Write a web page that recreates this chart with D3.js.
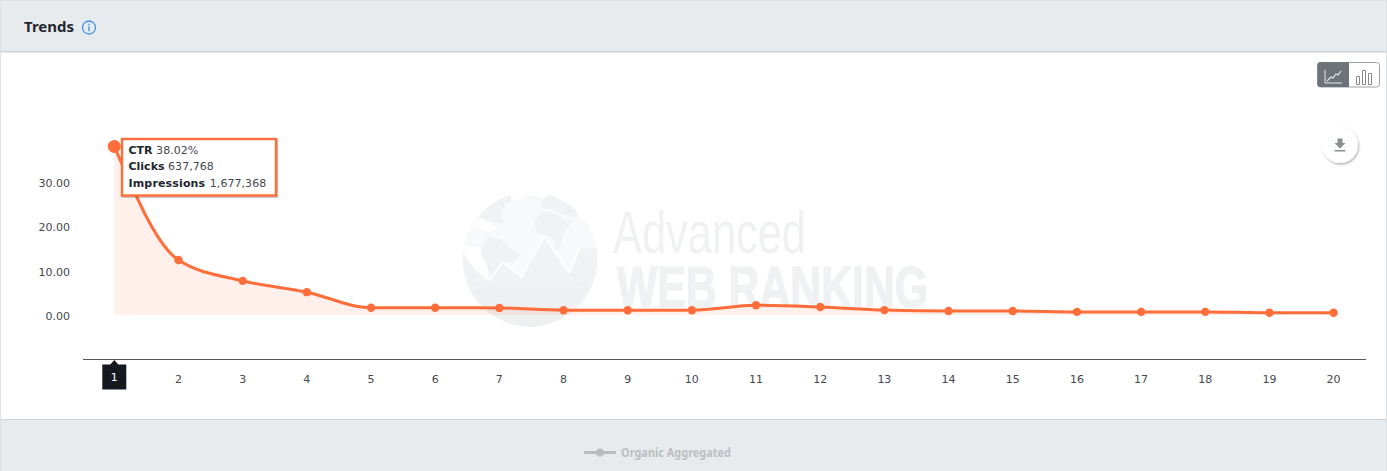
<!DOCTYPE html>
<html><head><meta charset="utf-8">
<script src="https://cdn.jsdelivr.net/npm/d3@7"></script>
<style>html,body{margin:0;padding:0;background:#fff;overflow:hidden}svg{display:block}</style>
</head><body><svg id="c" width="1387" height="471"></svg>
<script>
const categories = [1,2,3,4,5,6,7,8,9,10,11,12,13,14,15,16,17,18,19,20];
const ctrValues = [38.02,12.4,7.7,5.15,1.65,1.65,1.6,1.08,1.08,1.08,2.2,1.8,1.1,0.9,0.9,0.7,0.7,0.7,0.5,0.5];
const yTicks = [0,10,20,30];
const tooltipRows = [["CTR","38.02%"],["Clicks","637,768"],["Impressions","1,677,368"]];
const title = "Trends";
const legendLabel = "Organic Aggregated";

const svg = d3.select("#c");
const font = "'DejaVu Sans',Verdana,sans-serif";
const orange = "#ff6d3b";
const x = d3.scaleLinear().domain([1,20]).range([114.3,1333.6]);
const y = d3.scaleLinear().domain([0,30]).range([315,182]);

// panels
svg.append("rect").attr("width",1387).attr("height",471).attr("fill","#fff");
svg.append("rect").attr("width",1387).attr("height",52).attr("fill","#e8ebee");
svg.append("rect").attr("y",51).attr("width",1387).attr("height",1.5).attr("fill","#d0d5d9");
svg.append("rect").attr("y",419).attr("width",1387).attr("height",52).attr("fill","#e8ebee");
svg.append("rect").attr("y",419).attr("width",1387).attr("height",1).attr("fill","#cfd2d5");
svg.append("rect").attr("width",1).attr("height",471).attr("fill","#dfe2e5");
svg.append("rect").attr("x",1386).attr("width",1).attr("height",471).attr("fill","#dfe2e5");
svg.append("rect").attr("width",1387).attr("height",1).attr("fill","#dfe2e5");

svg.append("text").attr("x",24).attr("y",32).attr("font-family","'Noto Sans',sans-serif").attr("font-weight",700)
  .attr("font-size",15).attr("fill","#22262e").text(title);
const info = svg.append("g").attr("transform","translate(89,27.5)");
info.append("circle").attr("r",6.5).attr("fill","none").attr("stroke","#3f94ee").attr("stroke-width",1.3);
info.append("rect").attr("x",-0.7).attr("y",-3.8).attr("width",1.4).attr("height",1.4).attr("fill","#3f94ee");
info.append("rect").attr("x",-0.7).attr("y",-1.3).attr("width",1.4).attr("height",5).attr("fill","#3f94ee");

// watermark (globe drawn in a 3x local space)
const wm = svg.append("g");
const defs = svg.append("defs");
defs.append("clipPath").attr("id","globe").append("circle").attr("cx",530).attr("cy",259.5).attr("r",67.5);
const g = wm.append("g").attr("clip-path","url(#globe)");
g.append("circle").attr("cx",530).attr("cy",259.5).attr("r",67.5).attr("fill","#f1f2f4");
const gl = g.append("g").attr("transform","translate(450,185) scale(0.3333)");
const white = "#fff", pale = "#f8f9fa", land = "#f1f2f4";
// upper ocean
gl.append("path").attr("fill",pale).attr("d","M30 185 C40 90 120 20 240 15 C340 15 420 90 450 190 L388 190 L358 265 L282 155 L215 275 L158 232 L118 285 L90 210 Z");
// left crescent
gl.append("path").attr("fill",white).attr("d","M30 180 L92 190 L112 250 L118 288 Q62 255 30 180 Z");
// streak and top/right rim
gl.append("path").attr("fill",white).attr("d","M58 118 L95 100 L140 128 L120 142 L85 130 Z");
gl.append("path").attr("fill",white).attr("d","M180 15 L300 10 L282 38 L240 30 L185 48 Z");
gl.append("path").attr("fill",white).attr("d","M340 40 L400 60 L420 110 L385 100 L375 75 Z");
// land masses
gl.append("path").attr("fill",land).attr("d","M80 72 L125 45 L180 30 L185 48 L165 60 L150 92 L168 120 L130 112 L95 98 Z");
gl.append("path").attr("fill",land).attr("d","M92 190 L112 155 L150 162 L185 190 L210 212 L185 232 L160 230 L135 258 L118 282 L112 240 L95 215 Z");
gl.append("path").attr("fill",land).attr("d","M252 108 L272 85 L290 78 L330 92 L345 105 L372 108 L345 135 L330 185 L320 195 L308 160 L282 150 L262 145 Z");
gl.append("path").attr("fill",land).attr("d","M272 50 L300 28 L345 48 L378 75 L385 100 L345 90 L305 72 L275 68 Z");
// zigzag highlight
gl.append("path").attr("fill","none").attr("stroke",white).attr("stroke-width",5)
  .attr("d","M118 285 L158 233 L215 275 L282 155 L358 262 L388 190");
// dotted rim tone on the bottom
gl.append("path").attr("fill","#edeef0").attr("d","M60 290 Q130 300 240 300 Q360 300 420 285 Q370 420 240 425 Q110 420 60 290 Z").attr("opacity",0.6);

wm.append("text").attr("x",613).attr("y",253).attr("font-family","'Liberation Sans Narrow',sans-serif")
  .attr("font-size",60).attr("fill","#f0f1f3").attr("textLength",193).attr("lengthAdjust","spacingAndGlyphs").text("Advanced");
wm.append("text").attr("x",617).attr("y",307).attr("font-family","'Liberation Sans Narrow',sans-serif").attr("font-weight",700)
  .attr("font-size",58).attr("fill","#f0f1f3").attr("stroke","#f0f1f3").attr("stroke-width",1.6)
  .attr("textLength",311).attr("lengthAdjust","spacingAndGlyphs").text("WEB RANKING");

// area + line
const pts = categories.map((c,i)=>({c,v:ctrValues[i]}));
svg.append("path").datum(pts).attr("fill",orange).attr("fill-opacity",0.1)
  .attr("d",d3.area().x(d=>x(d.c)).y0(y(0)).y1(d=>y(d.v)).curve(d3.curveMonotoneX));
svg.append("path").datum(pts).attr("fill","none").attr("stroke",orange).attr("stroke-width",3)
  .attr("d",d3.line().x(d=>x(d.c)).y(d=>y(d.v)).curve(d3.curveMonotoneX));
svg.selectAll("circle.pt").data(pts).join("circle").attr("class","pt")
  .attr("cx",d=>x(d.c)).attr("cy",d=>y(d.v)).attr("r",(d,i)=>i===0?6.5:4.2).attr("fill",orange);

// y axis labels
svg.selectAll("text.yl").data(yTicks).join("text").attr("class","yl").attr("x",70).attr("text-anchor","end")
  .attr("y",d=>y(d)+5).attr("font-family",font).attr("font-size",11).attr("fill","#45484d").text(d=>d3.format(".2f")(d));

// x axis
svg.append("line").attr("x1",83).attr("x2",1366).attr("y1",359.5).attr("y2",359.5).attr("stroke","#555").attr("stroke-width",1);
const bx = x(1);
svg.append("path").attr("fill","#15181f").attr("d",`M${bx-12} 364.5 L${bx-4} 364.5 L${bx} 360 L${bx+4} 364.5 L${bx+12} 364.5 L${bx+12} 389.5 L${bx-12} 389.5 Z`);
svg.selectAll("text.xl").data(categories).join("text").attr("class","xl").attr("text-anchor","middle")
  .attr("x",d=>x(d)).attr("y",(d,i)=>i===0?381:383).attr("font-family",font).attr("font-size",11)
  .attr("fill",(d,i)=>i===0?"#fff":"#45484d").text(d=>d);

// tooltip
defs.append("filter").attr("id","tsh").attr("x","-5%").attr("y","-10%").attr("width","110%").attr("height","125%")
  .append("feDropShadow").attr("dx",1).attr("dy",1).attr("stdDeviation",0.6).attr("flood-color","#000").attr("flood-opacity",0.3);
const tt = svg.append("g");
tt.append("rect").attr("x",122).attr("y",139).attr("width",154).attr("height",56.5).attr("fill","#fff").attr("stroke",orange).attr("stroke-width",2.4).attr("filter","url(#tsh)");
tooltipRows.forEach((r,i)=>{
  const t = tt.append("text").attr("x",128.5).attr("y",154+i*16.3).attr("font-family",font).attr("font-size",11).attr("fill","#45484d");
  t.append("tspan").attr("font-weight",700).attr("fill","#22262e").attr("letter-spacing",i===2?0.15:0).text(r[0]);
  t.append("tspan").attr("dx",i===2?1:0).attr("letter-spacing",0.05).text(" "+r[1]);
});

// chart type toggle
const tg = svg.append("g");
tg.append("rect").attr("x",1317.5).attr("y",62.5).attr("width",62).attr("height",24.5).attr("rx",3).attr("fill","#fff").attr("stroke","#9a9fa5");
tg.append("path").attr("fill","#6d7379").attr("d","M1349 62 H1320.5 a3 3 0 0 0 -3 3 V84 a3 3 0 0 0 3 3 H1349 Z");
tg.append("path").attr("fill","none").attr("stroke","#e8e9ea").attr("stroke-width",1).attr("d","M1325 70 V83 H1342");
tg.append("path").attr("fill","none").attr("stroke","#e8e9ea").attr("stroke-width",1.2).attr("d","M1327 81 L1331 77 L1333 78 L1336 74 L1338 75 L1341 71");
tg.append("path").attr("fill","none").attr("stroke","#888").attr("stroke-width",1).attr("d","M1356.5 76.5 h3 v8 h-3 Z M1362.5 70.5 h3 v14 h-3 Z M1368.5 73.5 h3 v11 h-3 Z");

// download button
const db = svg.append("g");
defs.append("filter").attr("id","sh").attr("x","-30%").attr("y","-30%").attr("width","170%").attr("height","170%")
  .append("feDropShadow").attr("dx",1).attr("dy",1.5).attr("stdDeviation",1.2).attr("flood-color","#000").attr("flood-opacity",0.3);
db.append("circle").attr("cx",1340).attr("cy",145).attr("r",18).attr("fill","#fff").attr("filter","url(#sh)");
db.append("path").attr("fill","#8a8d91").attr("d","M1337.5 138.5 h5 v4.5 h3 l-5.5 5.5 l-5.5 -5.5 h3 Z M1334.5 150 h11 v1.5 h-11 Z");

// legend
svg.append("line").attr("x1",584).attr("x2",616).attr("y1",452.5).attr("y2",452.5).attr("stroke","#b9bbbe").attr("stroke-width",3);
svg.append("circle").attr("cx",600).attr("cy",452.5).attr("r",4).attr("fill","#b9bbbe");
svg.append("text").attr("x",621).attr("y",457).attr("font-family","'Noto Sans',sans-serif").attr("font-weight",700).attr("font-size",11.5)
  .attr("textLength",110).attr("lengthAdjust","spacingAndGlyphs").attr("fill","#bcbec1").text(legendLabel);
</script></body></html>
